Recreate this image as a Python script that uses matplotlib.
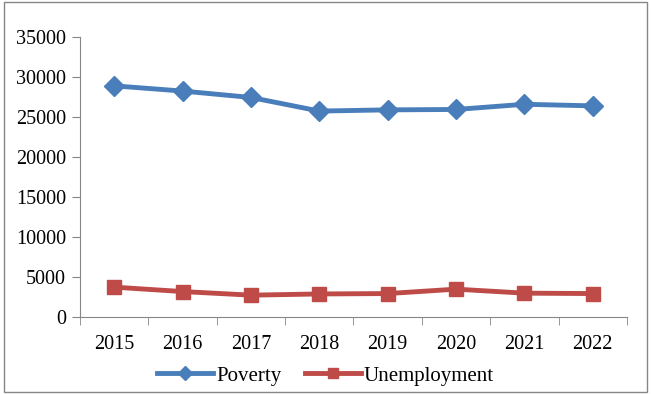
import matplotlib
matplotlib.use("Agg")
import matplotlib.pyplot as plt
from matplotlib.patches import Rectangle

years = ["2015", "2016", "2017", "2018", "2019", "2020", "2021", "2022"]
poverty = [28900, 28250, 27450, 25750, 25900, 25950, 26600, 26400]
unemployment = [3750, 3200, 2750, 2900, 2950, 3500, 3000, 2950]

plt.rcParams["font.family"] = ["Liberation Serif", "DejaVu Serif"]

fig = plt.figure(figsize=(6.51, 3.94), dpi=100)
ax = fig.add_axes([0.123, 0.195, 0.840, 0.711])

x = list(range(len(years)))
ax.plot(x, poverty, color="#4A7EBB", lw=3.5, marker="D", ms=10,
        label="Poverty")
ax.plot(x, unemployment, color="#BE4B48", lw=3.5, marker="s", ms=10,
        label="Unemployment")

ax.set_xlim(-0.5, len(years) - 0.5)
ax.set_ylim(0, 35000)
ax.set_yticks(range(0, 35001, 5000))
ax.set_xticks(x)
ax.set_xticklabels(years)
ax.set_xticks([i - 0.5 for i in range(len(years) + 1)], minor=True)
ax.tick_params(axis="x", which="major", length=0, labelsize=14.5, pad=13)
ax.tick_params(axis="x", which="minor", length=6, color="#868686", direction="out")
ax.tick_params(axis="y", length=6, color="#868686", labelsize=14.5, pad=4)

for s in ["top", "right"]:
    ax.spines[s].set_visible(False)
for s in ["left", "bottom"]:
    ax.spines[s].set_color("#868686")

fig.legend(loc="center", bbox_to_anchor=(0.5, 1 - 376 / 394), ncol=2, frameon=False,
           fontsize=15, handlelength=2.7, handletextpad=0.15, columnspacing=1.1,
           markerscale=0.7, borderaxespad=0)

fig.patches.append(Rectangle((0.006, 0.006), 0.988, 0.988, transform=fig.transFigure,
                             fill=False, edgecolor="#868686", lw=1))

fig.savefig("out.png", dpi=100)
